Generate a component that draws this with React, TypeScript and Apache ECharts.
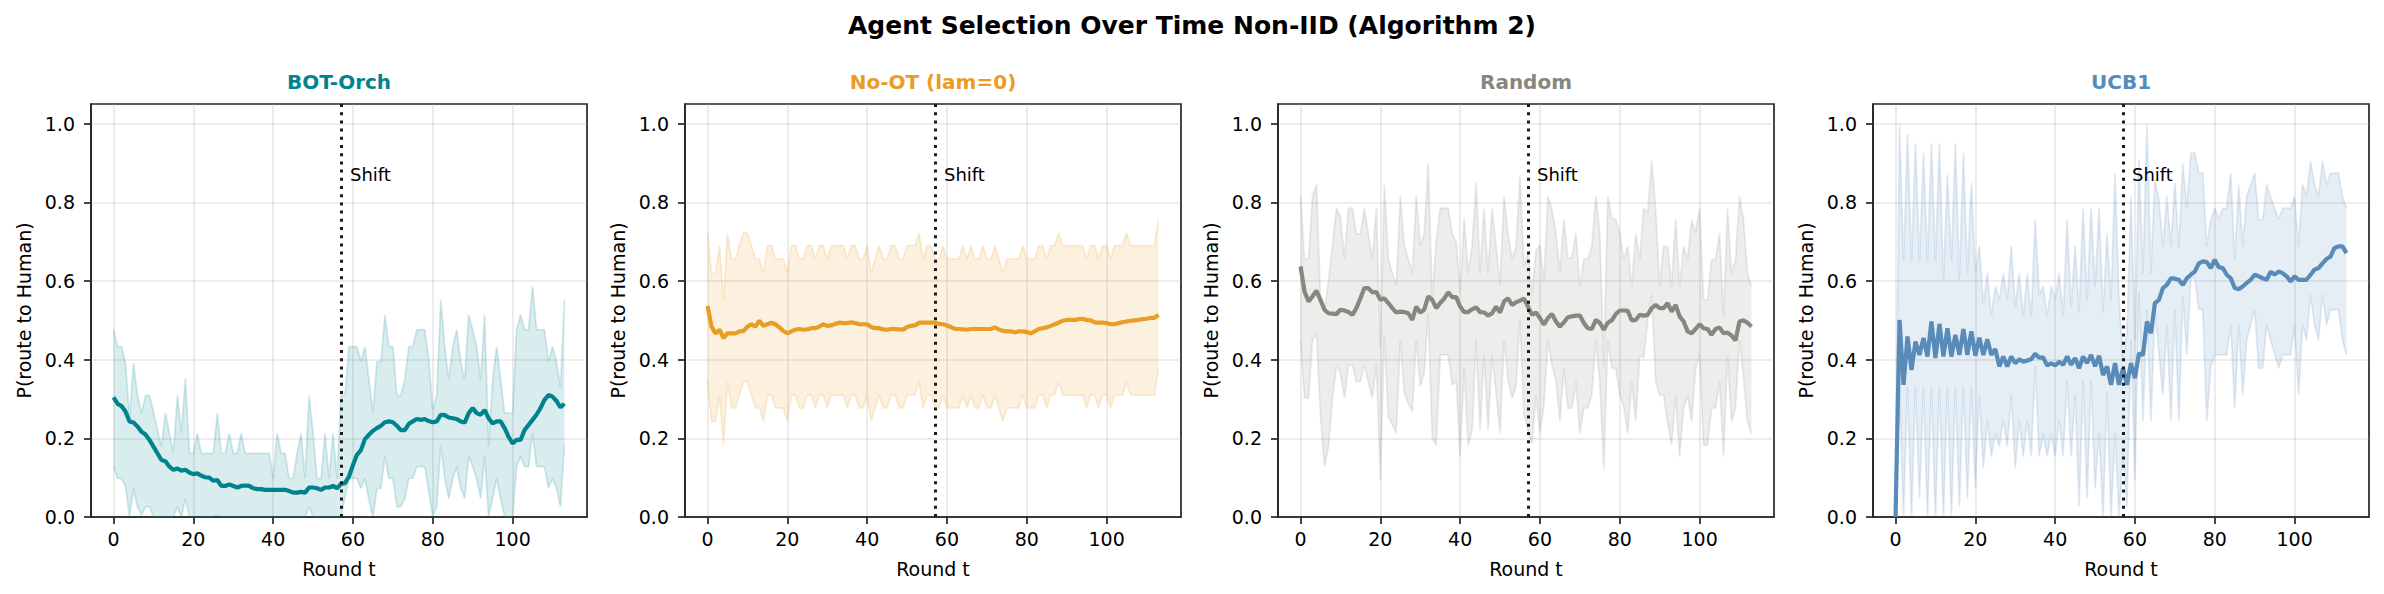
import React, { useEffect, useRef } from "react";
import * as echarts from "echarts";

const FONT = "DejaVu Sans";

const mainTitle = "Agent Selection Over Time Non-IID (Algorithm 2)";
const panelTitles = ["BOT-Orch", "No-OT (lam=0)", "Random", "UCB1"];
const panelColors = ["#00838f", "#e99d24", "#878780", "#598bb9"];
const shiftRound = 57;
const shiftLabelY = 0.85;
const xTicks = [0, 20, 40, 60, 80, 100];
const yTicks = [0, 0.2, 0.4, 0.6, 0.8, 1.0];

const rounds = [
  0, 1, 2, 3, 4, 5, 6, 7, 8, 9, 10, 11, 12, 13, 14, 15, 16, 17, 18, 19,
  20, 21, 22, 23, 24, 25, 26, 27, 28, 29, 30, 31, 32, 33, 34, 35, 36, 37, 38, 39,
  40, 41, 42, 43, 44, 45, 46, 47, 48, 49, 50, 51, 52, 53, 54, 55, 56, 57, 58, 59,
  60, 61, 62, 63, 64, 65, 66, 67, 68, 69, 70, 71, 72, 73, 74, 75, 76, 77, 78, 79,
  80, 81, 82, 83, 84, 85, 86, 87, 88, 89, 90, 91, 92, 93, 94, 95, 96, 97, 98, 99,
  100, 101, 102, 103, 104, 105, 106, 107, 108, 109, 110, 111, 112, 113,
];

// ---------- BOT-Orch ----------
const botMean = [
  0.304, 0.288, 0.282, 0.268, 0.243, 0.240, 0.230, 0.217, 0.210, 0.196,
  0.179, 0.162, 0.145, 0.142, 0.128, 0.120, 0.123, 0.118, 0.120, 0.113,
  0.109, 0.111, 0.105, 0.101, 0.100, 0.092, 0.094, 0.079, 0.079, 0.083,
  0.079, 0.075, 0.079, 0.080, 0.079, 0.073, 0.071, 0.071, 0.069, 0.069,
  0.069, 0.069, 0.069, 0.069, 0.066, 0.062, 0.062, 0.064, 0.062, 0.075,
  0.075, 0.073, 0.069, 0.075, 0.075, 0.079, 0.073, 0.084, 0.086, 0.103,
  0.132, 0.158, 0.170, 0.198, 0.209, 0.219, 0.226, 0.232, 0.241, 0.243,
  0.241, 0.232, 0.221, 0.221, 0.237, 0.243, 0.249, 0.247, 0.249, 0.244,
  0.241, 0.243, 0.260, 0.259, 0.253, 0.251, 0.249, 0.243, 0.240, 0.264,
  0.277, 0.264, 0.260, 0.272, 0.251, 0.238, 0.243, 0.243, 0.226, 0.204,
  0.187, 0.196, 0.196, 0.221, 0.234, 0.247, 0.260, 0.277, 0.298, 0.310,
  0.306, 0.295, 0.279, 0.288,
];
const botUpper = [
  0.476, 0.433, 0.433, 0.391, 0.255, 0.391, 0.310, 0.264, 0.309, 0.309,
  0.268, 0.222, 0.180, 0.264, 0.213, 0.162, 0.309, 0.213, 0.353, 0.162,
  0.162, 0.213, 0.162, 0.162, 0.162, 0.162, 0.264, 0.162, 0.162, 0.213,
  0.162, 0.162, 0.213, 0.162, 0.162, 0.162, 0.162, 0.162, 0.162, 0.162,
  0.098, 0.213, 0.162, 0.162, 0.098, 0.098, 0.162, 0.213, 0.098, 0.309,
  0.213, 0.098, 0.098, 0.213, 0.098, 0.213, 0.098, 0.309, 0.309, 0.433,
  0.433, 0.433, 0.395, 0.433, 0.349, 0.264, 0.395, 0.395, 0.514, 0.433,
  0.433, 0.309, 0.309, 0.349, 0.433, 0.433, 0.476, 0.476, 0.476, 0.400,
  0.272, 0.309, 0.552, 0.433, 0.349, 0.433, 0.476, 0.395, 0.349, 0.514,
  0.476, 0.433, 0.349, 0.514, 0.179, 0.349, 0.433, 0.349, 0.264, 0.264,
  0.264, 0.476, 0.514, 0.476, 0.476, 0.586, 0.476, 0.476, 0.476, 0.395,
  0.433, 0.395, 0.330, 0.552,
];
const botLower = [
  0.128, 0.098, 0.098, 0.077, 0.000, 0.073, 0.026, 0.005, 0.026, 0.026,
  0.000, 0.000, 0.000, 0.000, 0.000, 0.000, 0.026, 0.000, 0.047, 0.000,
  0.000, 0.000, 0.000, 0.000, 0.000, 0.000, 0.005, 0.000, 0.000, 0.000,
  0.000, 0.000, 0.000, 0.000, 0.000, 0.000, 0.000, 0.000, 0.000, 0.000,
  0.000, 0.000, 0.000, 0.000, 0.000, 0.000, 0.000, 0.000, 0.000, 0.026,
  0.000, 0.000, 0.000, 0.000, 0.000, 0.000, 0.000, 0.000, 0.052, 0.098,
  0.098, 0.098, 0.073, 0.098, 0.043, 0.000, 0.073, 0.073, 0.154, 0.098,
  0.098, 0.026, 0.026, 0.047, 0.098, 0.098, 0.128, 0.128, 0.128, 0.064,
  0.000, 0.026, 0.183, 0.098, 0.047, 0.098, 0.128, 0.073, 0.047, 0.154,
  0.128, 0.098, 0.047, 0.154, 0.000, 0.047, 0.098, 0.047, 0.000, 0.000,
  0.000, 0.128, 0.154, 0.128, 0.128, 0.213, 0.128, 0.128, 0.128, 0.073,
  0.098, 0.073, 0.026, 0.183,
];

// ---------- No-OT (lam=0) ----------
const nootMean = [
  0.537, 0.484, 0.467, 0.476, 0.455, 0.467, 0.467, 0.467, 0.472, 0.473,
  0.484, 0.490, 0.484, 0.499, 0.486, 0.490, 0.494, 0.490, 0.482, 0.473,
  0.467, 0.472, 0.476, 0.478, 0.476, 0.477, 0.480, 0.480, 0.484, 0.490,
  0.486, 0.487, 0.491, 0.494, 0.493, 0.493, 0.495, 0.493, 0.490, 0.490,
  0.490, 0.483, 0.480, 0.480, 0.477, 0.476, 0.478, 0.478, 0.477, 0.476,
  0.483, 0.486, 0.487, 0.494, 0.494, 0.494, 0.494, 0.494, 0.491, 0.490,
  0.487, 0.483, 0.478, 0.478, 0.477, 0.476, 0.478, 0.478, 0.478, 0.478,
  0.478, 0.478, 0.482, 0.477, 0.473, 0.472, 0.472, 0.469, 0.472, 0.472,
  0.470, 0.467, 0.472, 0.478, 0.480, 0.482, 0.486, 0.490, 0.494, 0.499,
  0.501, 0.501, 0.501, 0.503, 0.504, 0.501, 0.500, 0.495, 0.494, 0.494,
  0.493, 0.490, 0.490, 0.493, 0.495, 0.497, 0.499, 0.500, 0.501, 0.503,
  0.504, 0.506, 0.506, 0.514,
];
const nootUpper = [
  0.722, 0.620, 0.620, 0.690, 0.550, 0.722, 0.656, 0.656, 0.690, 0.722,
  0.722, 0.690, 0.656, 0.656, 0.620, 0.690, 0.690, 0.656, 0.656, 0.656,
  0.620, 0.690, 0.690, 0.656, 0.656, 0.690, 0.690, 0.656, 0.690, 0.690,
  0.656, 0.690, 0.690, 0.690, 0.690, 0.656, 0.690, 0.690, 0.656, 0.656,
  0.690, 0.620, 0.656, 0.690, 0.656, 0.656, 0.690, 0.690, 0.656, 0.656,
  0.690, 0.690, 0.690, 0.722, 0.656, 0.690, 0.690, 0.656, 0.656, 0.690,
  0.656, 0.656, 0.656, 0.656, 0.690, 0.656, 0.690, 0.656, 0.656, 0.690,
  0.656, 0.656, 0.690, 0.656, 0.620, 0.656, 0.656, 0.656, 0.656, 0.690,
  0.656, 0.656, 0.656, 0.690, 0.690, 0.656, 0.690, 0.690, 0.722, 0.690,
  0.690, 0.690, 0.690, 0.690, 0.690, 0.656, 0.690, 0.690, 0.656, 0.690,
  0.690, 0.656, 0.690, 0.690, 0.690, 0.722, 0.690, 0.690, 0.690, 0.690,
  0.690, 0.690, 0.690, 0.756,
];
const nootLower = [
  0.344, 0.243, 0.243, 0.310, 0.183, 0.344, 0.277, 0.277, 0.310, 0.344,
  0.344, 0.310, 0.277, 0.277, 0.243, 0.310, 0.310, 0.277, 0.277, 0.277,
  0.243, 0.310, 0.310, 0.277, 0.277, 0.310, 0.310, 0.277, 0.310, 0.310,
  0.277, 0.310, 0.310, 0.310, 0.310, 0.277, 0.310, 0.310, 0.277, 0.277,
  0.310, 0.243, 0.277, 0.310, 0.277, 0.277, 0.310, 0.310, 0.277, 0.277,
  0.310, 0.310, 0.310, 0.344, 0.277, 0.310, 0.310, 0.277, 0.277, 0.310,
  0.277, 0.277, 0.277, 0.277, 0.310, 0.277, 0.310, 0.277, 0.277, 0.310,
  0.277, 0.277, 0.310, 0.277, 0.243, 0.277, 0.277, 0.277, 0.277, 0.310,
  0.277, 0.277, 0.277, 0.310, 0.310, 0.277, 0.310, 0.310, 0.344, 0.310,
  0.310, 0.310, 0.310, 0.310, 0.310, 0.277, 0.310, 0.310, 0.277, 0.310,
  0.310, 0.277, 0.310, 0.310, 0.310, 0.344, 0.310, 0.310, 0.310, 0.310,
  0.310, 0.310, 0.310, 0.378,
];

// ---------- Random ----------
const randMean = [
  0.637, 0.573, 0.548, 0.561, 0.575, 0.552, 0.527, 0.518, 0.517, 0.516,
  0.527, 0.525, 0.521, 0.514, 0.531, 0.556, 0.582, 0.582, 0.571, 0.572,
  0.552, 0.556, 0.544, 0.531, 0.520, 0.522, 0.521, 0.518, 0.501, 0.535,
  0.520, 0.527, 0.561, 0.552, 0.531, 0.544, 0.555, 0.571, 0.559, 0.559,
  0.535, 0.521, 0.521, 0.528, 0.533, 0.521, 0.520, 0.512, 0.518, 0.535,
  0.520, 0.548, 0.556, 0.539, 0.546, 0.550, 0.555, 0.535, 0.514, 0.520,
  0.506, 0.489, 0.506, 0.516, 0.497, 0.484, 0.495, 0.508, 0.510, 0.512,
  0.512, 0.493, 0.480, 0.478, 0.501, 0.494, 0.476, 0.494, 0.500, 0.516,
  0.525, 0.525, 0.524, 0.500, 0.501, 0.514, 0.512, 0.514, 0.531, 0.539,
  0.531, 0.531, 0.544, 0.522, 0.539, 0.510, 0.497, 0.472, 0.467, 0.478,
  0.490, 0.480, 0.478, 0.463, 0.478, 0.482, 0.467, 0.469, 0.461, 0.449,
  0.497, 0.500, 0.494, 0.484,
];
const randUpper = [
  0.817, 0.656, 0.656, 0.815, 0.845, 0.550, 0.520, 0.600, 0.690, 0.785,
  0.765, 0.656, 0.785, 0.785, 0.720, 0.720, 0.785, 0.720, 0.656, 0.785,
  0.430, 0.845, 0.656, 0.620, 0.590, 0.817, 0.690, 0.656, 0.620, 0.817,
  0.690, 0.720, 0.900, 0.552, 0.700, 0.785, 0.785, 0.785, 0.720, 0.700,
  0.570, 0.760, 0.620, 0.690, 0.850, 0.620, 0.785, 0.620, 0.785, 0.690,
  0.590, 0.815, 0.720, 0.656, 0.688, 0.866, 0.637, 0.671, 0.569, 0.675,
  0.692, 0.599, 0.815, 0.781, 0.722, 0.620, 0.756, 0.658, 0.658, 0.722,
  0.586, 0.656, 0.656, 0.688, 0.815, 0.722, 0.383, 0.815, 0.760, 0.756,
  0.722, 0.654, 0.688, 0.586, 0.722, 0.654, 0.785, 0.773, 0.904, 0.781,
  0.586, 0.688, 0.688, 0.586, 0.756, 0.586, 0.688, 0.654, 0.756, 0.722,
  0.785, 0.552, 0.552, 0.654, 0.656, 0.722, 0.510, 0.785, 0.620, 0.654,
  0.815, 0.756, 0.620, 0.586,
];
const randLower = [
  0.450, 0.302, 0.302, 0.450, 0.467, 0.255, 0.128, 0.179, 0.300, 0.387,
  0.366, 0.302, 0.387, 0.387, 0.344, 0.344, 0.387, 0.344, 0.302, 0.387,
  0.094, 0.463, 0.255, 0.234, 0.213, 0.450, 0.315, 0.289, 0.268, 0.450,
  0.332, 0.366, 0.518, 0.200, 0.183, 0.412, 0.412, 0.412, 0.336, 0.345,
  0.154, 0.378, 0.183, 0.220, 0.450, 0.221, 0.412, 0.221, 0.412, 0.315,
  0.213, 0.450, 0.348, 0.302, 0.332, 0.500, 0.260, 0.220, 0.187, 0.310,
  0.213, 0.285, 0.450, 0.387, 0.349, 0.243, 0.378, 0.277, 0.277, 0.344,
  0.213, 0.277, 0.277, 0.310, 0.450, 0.344, 0.123, 0.450, 0.378, 0.378,
  0.310, 0.281, 0.213, 0.344, 0.243, 0.412, 0.404, 0.500, 0.565, 0.344,
  0.310, 0.310, 0.238, 0.183, 0.310, 0.154, 0.277, 0.310, 0.243, 0.378,
  0.412, 0.183, 0.183, 0.277, 0.277, 0.344, 0.154, 0.412, 0.243, 0.277,
  0.450, 0.357, 0.243, 0.213,
];

// ---------- UCB1 ----------
const ucbMean = [
  0.000, 0.501, 0.336, 0.459, 0.374, 0.446, 0.412, 0.455, 0.408, 0.497,
  0.404, 0.491, 0.408, 0.480, 0.408, 0.463, 0.412, 0.478, 0.412, 0.472,
  0.410, 0.456, 0.412, 0.452, 0.412, 0.427, 0.383, 0.408, 0.383, 0.408,
  0.391, 0.401, 0.395, 0.398, 0.401, 0.415, 0.405, 0.406, 0.385, 0.391,
  0.385, 0.395, 0.387, 0.408, 0.387, 0.404, 0.378, 0.408, 0.391, 0.412,
  0.383, 0.410, 0.361, 0.383, 0.336, 0.391, 0.336, 0.378, 0.336, 0.391,
  0.353, 0.416, 0.412, 0.497, 0.467, 0.544, 0.552, 0.582, 0.590, 0.607,
  0.606, 0.603, 0.590, 0.607, 0.616, 0.624, 0.645, 0.650, 0.648, 0.633,
  0.654, 0.635, 0.633, 0.616, 0.607, 0.582, 0.579, 0.586, 0.595, 0.603,
  0.616, 0.612, 0.607, 0.603, 0.624, 0.616, 0.624, 0.620, 0.612, 0.599,
  0.612, 0.603, 0.603, 0.603, 0.616, 0.629, 0.633, 0.645, 0.656, 0.662,
  0.684, 0.688, 0.688, 0.671,
];
const ucbUpper = [
  0.000, 1.000, 0.650, 0.975, 0.650, 0.950, 0.650, 0.925, 0.650, 0.950,
  0.650, 0.950, 0.600, 0.870, 0.650, 0.950, 0.600, 0.925, 0.620, 0.850,
  0.620, 0.690, 0.540, 0.620, 0.510, 0.586, 0.552, 0.620, 0.552, 0.690,
  0.535, 0.620, 0.510, 0.620, 0.510, 0.755, 0.565, 0.586, 0.510, 0.586,
  0.552, 0.620, 0.510, 0.755, 0.535, 0.690, 0.520, 0.785, 0.552, 0.785,
  0.586, 0.785, 0.520, 0.720, 0.552, 0.874, 0.552, 0.400, 0.470, 0.815,
  0.450, 0.908, 0.620, 0.997, 0.620, 0.857, 0.806, 0.688, 0.815, 0.688,
  0.849, 0.684, 0.900, 0.785, 0.925, 0.925, 0.874, 0.874, 0.688, 0.756,
  0.785, 0.756, 0.785, 0.785, 0.874, 0.654, 0.845, 0.688, 0.815, 0.845,
  0.874, 0.756, 0.756, 0.845, 0.815, 0.785, 0.756, 0.785, 0.785, 0.785,
  0.815, 0.688, 0.845, 0.815, 0.904, 0.845, 0.815, 0.904, 0.845, 0.874,
  0.874, 0.874, 0.815, 0.785,
];
const ucbLower = [
  0.000, 0.330, 0.000, 0.330, 0.000, 0.330, 0.047, 0.330, 0.000, 0.330,
  0.000, 0.330, 0.000, 0.330, 0.000, 0.330, 0.026, 0.330, 0.047, 0.330,
  0.073, 0.310, 0.124, 0.247, 0.154, 0.213, 0.179, 0.247, 0.179, 0.310,
  0.124, 0.247, 0.154, 0.247, 0.154, 0.383, 0.154, 0.213, 0.154, 0.213,
  0.154, 0.247, 0.154, 0.349, 0.154, 0.310, 0.026, 0.349, 0.047, 0.349,
  0.073, 0.213, 0.000, 0.316, 0.000, 0.213, 0.000, 0.162, 0.026, 0.450,
  0.094, 0.570, 0.243, 0.527, 0.243, 0.527, 0.416, 0.310, 0.489, 0.243,
  0.527, 0.243, 0.560, 0.412, 0.607, 0.607, 0.527, 0.527, 0.243, 0.383,
  0.412, 0.412, 0.412, 0.412, 0.489, 0.277, 0.489, 0.310, 0.450, 0.489,
  0.527, 0.378, 0.378, 0.489, 0.450, 0.416, 0.378, 0.412, 0.412, 0.412,
  0.489, 0.310, 0.489, 0.450, 0.565, 0.489, 0.450, 0.565, 0.489, 0.527,
  0.527, 0.527, 0.450, 0.412,
];

const panelMeans = [botMean, nootMean, randMean, ucbMean];
const panelUppers = [botUpper, nootUpper, randUpper, ucbUpper];
const panelLowers = [botLower, nootLower, randLower, ucbLower];

// layout (pixels)
const W = 2384;
const H = 594;
const gridLefts = [91, 685, 1278, 1873];
const gridTop = 104;
const gridW = 496;
const gridH = 413;

function rgba(hex: string, a: number) {
  const n = parseInt(hex.slice(1), 16);
  return `rgba(${(n >> 16) & 255},${(n >> 8) & 255},${n & 255},${a})`;
}

function buildOption() {
  const spine = "#262626";
  const gridColor = "rgba(176,176,176,0.3)";
  const grids: any[] = [];
  const xAxes: any[] = [];
  const yAxes: any[] = [];
  const series: any[] = [];
  const graphics: any[] = [
    {
      type: "text",
      x: W / 2,
      y: 25,
      style: {
        text: mainTitle,
        fontSize: 25,
        fontWeight: "bold",
        fontFamily: FONT,
        fill: "#000",
        align: "center",
        verticalAlign: "middle",
      },
    },
  ];

  panelTitles.forEach((title, i) => {
    const color = panelColors[i];
    grids.push({
      left: gridLefts[i],
      top: gridTop,
      width: gridW,
      height: gridH,
      show: true,
      borderColor: spine,
      borderWidth: 1.7,
      backgroundColor: "transparent",
    });
    xAxes.push({
      gridIndex: i,
      type: "value",
      min: -5.65,
      max: 118.65,
      name: "Round t",
      nameLocation: "middle",
      nameGap: 42,
      nameTextStyle: { fontSize: 19, fontFamily: FONT, color: "#000" },
      axisLine: { show: true, onZero: false, lineStyle: { color: spine, width: 1.7 } },
      axisTick: { show: true, length: 7, customValues: xTicks, lineStyle: { color: spine, width: 1.7 } },
      axisLabel: {
        customValues: xTicks,
        fontSize: 19,
        fontFamily: FONT,
        color: "#000",
        margin: 12,
      },
      splitLine: { show: true, lineStyle: { color: gridColor, width: 1.6 } },
    });
    yAxes.push({
      gridIndex: i,
      type: "value",
      min: 0,
      max: 1.05,
      name: "P(route to Human)",
      nameLocation: "middle",
      nameGap: 58,
      nameTextStyle: { fontSize: 19, fontFamily: FONT, color: "#000" },
      axisLine: { show: true, onZero: false, lineStyle: { color: spine, width: 1.7 } },
      axisTick: { show: true, length: 7, customValues: yTicks, lineStyle: { color: spine, width: 1.7 } },
      axisLabel: {
        customValues: yTicks,
        fontSize: 19,
        fontFamily: FONT,
        color: "#000",
        margin: 16,
        formatter: (v: number) => v.toFixed(1),
      },
      splitLine: { show: true, lineStyle: { color: gridColor, width: 1.6 } },
    });

    const mean = panelMeans[i];
    const upper = panelUppers[i];
    const lower = panelLowers[i];
    const edge = { color: rgba(color, 0.17), width: 1.8 };
    const fill = rgba(color, 0.15);

    // shaded band: one polygon through the axis scales
    series.push({
      type: "custom",
      xAxisIndex: i,
      yAxisIndex: i,
      silent: true,
      z: 1,
      data: [[rounds[0], lower[0]]],
      renderItem: (_params: any, api: any) => {
        const pts: number[][] = [];
        rounds.forEach((r) => pts.push(api.coord([r, upper[r]])));
        for (let k = rounds.length - 1; k >= 0; k--) {
          const r = rounds[k];
          pts.push(api.coord([r, lower[r]]));
        }
        return {
          type: "polygon",
          shape: { points: pts },
          style: { fill: fill, stroke: "none" },
        };
      },
    });
    series.push({
      type: "line",
      xAxisIndex: i,
      yAxisIndex: i,
      symbol: "none",
      silent: true,
      z: 2,
      lineStyle: edge,
      data: rounds.map((r) => [r, lower[r]]),
    });
    series.push({
      type: "line",
      xAxisIndex: i,
      yAxisIndex: i,
      symbol: "none",
      silent: true,
      z: 2,
      lineStyle: edge,
      data: rounds.map((r) => [r, upper[r]]),
    });
    series.push({
      type: "line",
      xAxisIndex: i,
      yAxisIndex: i,
      symbol: "none",
      z: 3,
      lineStyle: { color: color, width: 4.2 },
      data: rounds.map((r) => [r, mean[r]]),
      markLine: {
        symbol: "none",
        silent: true,
        z: 4,
        label: { show: false },
        lineStyle: { color: "#1a1a1a", width: 3, type: [3, 5.2] },
        data: [{ xAxis: shiftRound }],
      },
      markPoint: {
        symbol: "circle",
        symbolSize: 0,
        silent: true,
        data: [{ coord: [shiftRound, shiftLabelY] }],
        label: {
          show: true,
          formatter: "Shift",
          position: "right",
          distance: 0,
          offset: [9, -8],
          fontSize: 18,
          fontFamily: FONT,
          color: "#000",
        },
      },
    });

    graphics.push({
      type: "text",
      x: gridLefts[i] + gridW / 2,
      y: 82,
      style: {
        text: title,
        fontSize: 20,
        fontWeight: "bold",
        fontFamily: FONT,
        fill: color,
        align: "center",
        verticalAlign: "middle",
      },
    });
  });

  return {
    animation: false,
    backgroundColor: "#ffffff",
    grid: grids,
    xAxis: xAxes,
    yAxis: yAxes,
    series,
    graphic: graphics,
  };
}

export default function App() {
  const ref = useRef<HTMLDivElement>(null);
  useEffect(() => {
    document.body.style.margin = "0";
    if (!ref.current) return;
    const chart = echarts.init(ref.current, undefined, { renderer: "svg" });
    chart.setOption(buildOption() as any);
    return () => chart.dispose();
  }, []);
  return <div ref={ref} style={{ width: W, height: H }} />;
}
